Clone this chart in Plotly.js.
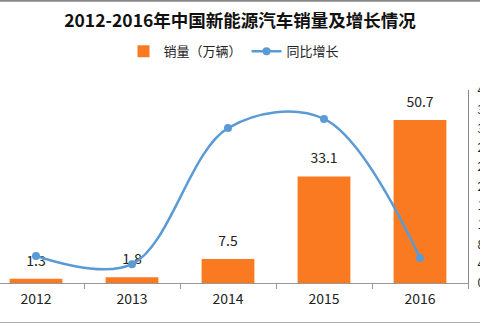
<!DOCTYPE html>
<html><head><meta charset="utf-8">
<script src="https://cdn.plot.ly/plotly-3.0.1.min.js"></script>
<style>html,body{margin:0;padding:0;background:#fff}#c{width:480px;height:324px}</style>
</head><body><div id="c"></div>
<script>
const years = ['2012','2013','2014','2015','2016'];
const sales = [1.3, 1.8, 7.5, 33.1, 50.7];
const growth = [56, 39, 321, 340, 52];
const salesName = '销量（万辆）';
const growthName = '同比增长';
const titleText = '2012-2016年中国新能源汽车销量及增长情况';

const font = '"Noto Sans CJK SC", "Microsoft YaHei", sans-serif';

const traces = [
  {type:'bar', x:years, y:sales, name:salesName, marker:{color:'#FA7A22'}, width:0.55, hoverinfo:'none'},
  {type:'scatter', mode:'markers+text', x:years, y:sales, text:sales.map(String), textposition:'top center',
   marker:{size:14, opacity:0}, showlegend:false, cliponaxis:false, hoverinfo:'none',
   textfont:{family:font, size:14, color:'#222'}},
  {type:'scatter', mode:'lines+markers', x:years, y:growth, name:growthName, yaxis:'y2',
   line:{color:'#5B9BD5', width:2.5, shape:'spline', smoothing:1.0},
   marker:{color:'#5B9BD5', size:8}, hoverinfo:'none'}
];

const layout = {
  width:480, height:324,
  margin:{l:0, r:12, t:90, b:41},
  paper_bgcolor:'#fff', plot_bgcolor:'#fff',
  font:{family:font, size:13, color:'#222'},
  title:{text:'<b>'+titleText+'</b>', x:0.5, xanchor:'center', y:0.935, yanchor:'middle',
         font:{family:font, size:17.5, color:'#111'}},
  showlegend:true,
  legend:{orientation:'h', x:0.5, xanchor:'center', y:1.2, yanchor:'middle',
          font:{family:font, size:13, color:'#222'}, itemwidth:30, bgcolor:'rgba(0,0,0,0)'},
  xaxis:{type:'category', range:[-0.375, 4.5], showline:true, linecolor:'#999', linewidth:1,
         ticks:'outside', ticklen:5, tickcolor:'#999', tickson:'boundaries', ticklabelstandoff:3,
         tickfont:{family:font, size:14, color:'#222'}, showgrid:false, zeroline:false, fixedrange:true},
  yaxis:{range:[0,60], showticklabels:false, showline:false, ticks:'', showgrid:false, zeroline:false},
  yaxis2:{overlaying:'y', side:'right', range:[0,400], dtick:40, ticksuffix:'%',
          showline:true, linecolor:'#888', linewidth:1, ticks:'', showgrid:false, zeroline:false,
          ticklabelstandoff:6,
          tickfont:{family:font, size:12, color:'#222'}, automargin:false},
  shapes:[
    {type:'line', xref:'paper', yref:'paper', x0:-0.1, x1:1.1, y0:1.462, y1:1.462, line:{color:'#888', width:2}},
    {type:'line', xref:'paper', yref:'paper', x0:-0.1, x1:1.1, y0:-0.205, y1:-0.205, line:{color:'#aaa', width:1}}
  ],
  bargap:0.45
};

Plotly.newPlot('c', traces, layout, {displayModeBar:false, staticPlot:true});
</script></body></html>
